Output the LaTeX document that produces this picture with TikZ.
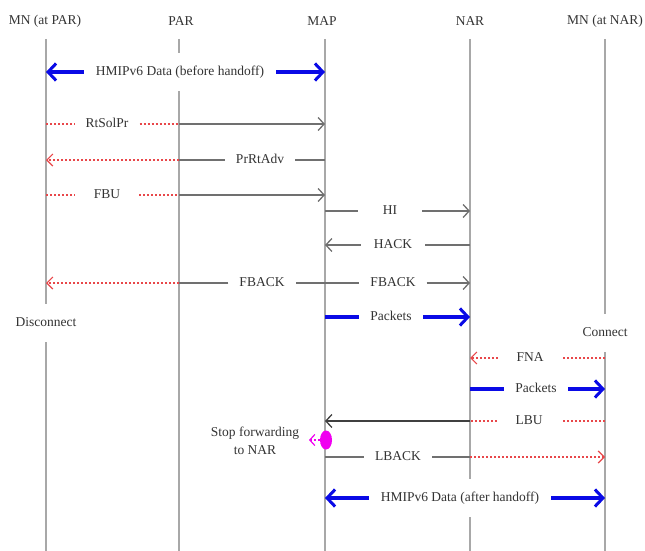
\documentclass[tikz,border=0pt]{standalone}
\usepackage{fontspec}
\setmainfont{Liberation Serif}
\usetikzlibrary{arrows.meta,shapes.geometric}
\definecolor{lgrey}{HTML}{A8A8A8}
\definecolor{mgrey}{HTML}{707070}
\definecolor{dred}{HTML}{E8474A}
\definecolor{bblue}{HTML}{0A0AE6}
\definecolor{mag}{HTML}{F000F0}
\tikzset{
  txt/.style={font=\fontsize{13.5}{15}\selectfont, text=black!80},
  hdr/.style={txt, inner sep=0pt},
  lifeline/.style={draw=lgrey, line width=1.3pt},
  lbl/.style={txt, fill=white, inner xsep=11pt, inner ysep=2pt, minimum width=64pt, text height=9pt, text depth=3pt},
  biglbl/.style={txt, fill=white, inner xsep=12pt, inner ysep=13pt, text height=9pt, text depth=3pt},
  msg/.style={draw=mgrey, line width=1.6pt},
  msgarr/.style={msg, -{Straight Barb[length=6pt,width=13pt,line width=1.3pt]}},
  reddot/.style={draw=dred, line width=1.2pt, dash pattern=on 2pt off 2pt},
  redarr/.style={reddot, -{Straight Barb[length=6pt,width=12pt,line width=1.2pt]}},
  bluel/.style={draw=bblue, line width=3.5pt},
  bluearr/.style={bluel, -{Straight Barb[length=8pt,width=17pt,line width=3pt]}},
}
\begin{document}
\begin{tikzpicture}[x=1pt,y=-1pt]
\useasboundingbox (0,0) rectangle (645,551);
% headers
\node[hdr] (hA) at (45,21) {MN (at PAR)};
\node[hdr] (hP) at (181,21) {PAR};
\node[hdr] (hM) at (322,21) {MAP};
\node[hdr] (hN) at (470,21) {NAR};
\node[hdr] (hB) at (605,21) {MN (at NAR)};
% lifelines
\coordinate (A0) at (46,39);  \coordinate (A1) at (46,551);
\coordinate (P0) at (179,39); \coordinate (P1) at (179,551);
\coordinate (M0) at (325,39); \coordinate (M1) at (325,551);
\coordinate (N0) at (470,39); \coordinate (N1) at (470,551);
\coordinate (B0) at (605,39); \coordinate (B1) at (605,551);
\draw[lifeline] (A0) -- (A1);
\draw[lifeline] (P0) -- (P1);
\draw[lifeline] (M0) -- (M1);
\draw[lifeline] (N0) -- (N1);
\draw[lifeline] (B0) -- (B1);
% state labels
\node[biglbl, inner xsep=2pt] (disc) at (46,323) {Disconnect};
\node[biglbl, inner xsep=2pt] (conn) at (605,333) {Connect};

% HMIPv6 before handoff
\coordinate (a72) at (46,72); \coordinate (m72) at (325,72);
\node[biglbl] (l0) at (180,72) {HMIPv6 Data (before handoff)};
\draw[bluearr] (l0.west) -- (a72);
\draw[bluearr] (l0.east) -- (m72);

% RtSolPr
\coordinate (a124) at (46,124); \coordinate (p124) at (179,124); \coordinate (m124) at (325,124);
\node[lbl] (l1) at (107,124) {RtSolPr};
\draw[reddot] (a124) -- (l1.west);
\draw[reddot] (l1.east) -- (p124);
\draw[msgarr] (p124) -- (m124);

% PrRtAdv
\coordinate (a160) at (46,160); \coordinate (p160) at (179,160); \coordinate (m160) at (325,160);
\node[lbl] (l2) at (260,160) {PrRtAdv};
\draw[msg] (m160) -- (l2.east);
\draw[msg] (l2.west) -- (p160);
\draw[redarr] (p160) -- (a160);

% FBU
\coordinate (a195) at (46,195); \coordinate (p195) at (179,195); \coordinate (m195) at (325,195);
\node[lbl] (l3) at (107,195) {FBU};
\draw[reddot] (a195) -- (l3.west);
\draw[reddot] (l3.east) -- (p195);
\draw[msgarr] (p195) -- (m195);

% HI
\coordinate (m211) at (325,211); \coordinate (n211) at (470,211);
\node[lbl] (l4) at (390,211) {HI};
\draw[msg] (m211) -- (l4.west);
\draw[msgarr] (l4.east) -- (n211);

% HACK
\coordinate (m245) at (325,245); \coordinate (n245) at (470,245);
\node[lbl] (l5) at (393,245) {HACK};
\draw[msg] (n245) -- (l5.east);
\draw[msgarr] (l5.west) -- (m245);

% FBACK
\coordinate (a283) at (46,283); \coordinate (p283) at (179,283); \coordinate (m283) at (325,283); \coordinate (n283) at (470,283);
\node[lbl] (l6) at (262,283) {FBACK};
\node[lbl] (l7) at (393,283) {FBACK};
\draw[msg] (m283) -- (l6.east);
\draw[msg] (l6.west) -- (p283);
\draw[redarr] (p283) -- (a283);
\draw[msg] (m283) -- (l7.west);
\draw[msgarr] (l7.east) -- (n283);

% Packets MAP->NAR
\coordinate (m317) at (325,317); \coordinate (n317) at (470,317);
\node[lbl] (l8) at (391,317) {Packets};
\draw[bluel] (m317) -- (l8.west);
\draw[bluearr] (l8.east) -- (n317);

% FNA
\coordinate (n358) at (470,358); \coordinate (b358) at (605,358);
\node[lbl] (l9) at (530,358) {FNA};
\draw[reddot] (b358) -- (l9.east);
\draw[redarr] (l9.west) -- (n358);

% Packets NAR->MN
\coordinate (n389) at (470,389); \coordinate (b389) at (605,389);
\node[lbl] (l10) at (536,389) {Packets};
\draw[bluel] (n389) -- (l10.west);
\draw[bluearr] (l10.east) -- (b389);

% LBU
\coordinate (m421) at (325,421); \coordinate (n421) at (470,421); \coordinate (b421) at (605,421);
\node[lbl] (l11) at (529,421) {LBU};
\draw[reddot] (b421) -- (l11.east);
\draw[reddot] (l11.west) -- (n421);
\draw[msgarr, draw=black!75] (n421) -- (m421);

% Stop forwarding
\node[txt, align=center, inner sep=0pt, font=\fontsize{13.5}{18}\selectfont] (stop) at (255,441) {Stop forwarding\\to NAR};
\node[ellipse, fill=mag, minimum width=12pt, minimum height=19pt, inner sep=0pt] (dot) at (326,440) {};
\coordinate (mgtip) at (309,440);
\draw[draw=mag, line width=1.2pt, dash pattern=on 2pt off 2pt, -{Straight Barb[length=5pt,width=11pt,line width=1.2pt]}] (dot.west) -- (mgtip);

% LBACK
\coordinate (m457) at (325,457); \coordinate (n457) at (470,457); \coordinate (b457) at (605,457);
\node[lbl] (l12) at (398,457) {LBACK};
\draw[msg] (m457) -- (l12.west);
\draw[msg] (l12.east) -- (n457);
\draw[redarr] (n457) -- (b457);

% HMIPv6 after handoff
\coordinate (m498) at (325,498); \coordinate (b498) at (605,498);
\node[biglbl] (l13) at (460,498) {HMIPv6 Data (after handoff)};
\draw[bluearr] (l13.west) -- (m498);
\draw[bluearr] (l13.east) -- (b498);
\end{tikzpicture}
\end{document}
